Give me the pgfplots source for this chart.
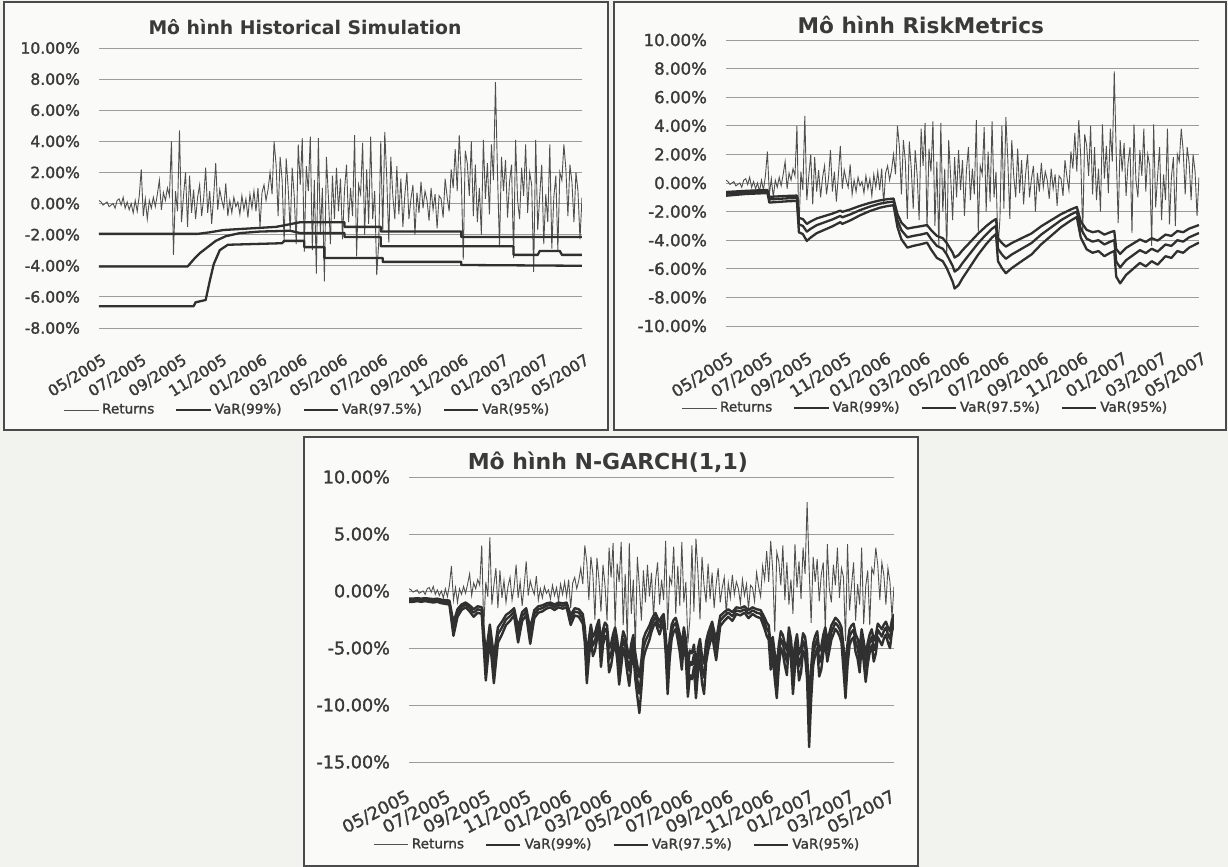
\documentclass[border=0pt]{standalone}
\usepackage{fontspec}
\setmainfont{DejaVu Sans}
\newfontfamily\lblfont{DejaVu Sans}[FakeBold=1.6]
\usepackage{pgfplots}
\usepackage{pgfplotstable}
\pgfplotsset{compat=1.18}
\definecolor{bgc}{HTML}{F2F2EE}
\definecolor{panc}{HTML}{FAFAF8}
\definecolor{framec}{HTML}{4A4A4A}
\definecolor{gridc}{HTML}{9C9C9C}
\definecolor{retc}{HTML}{505050}
\definecolor{varc}{HTML}{303030}
\definecolor{txtc}{HTML}{3A3A3A}

\pgfplotstableread{
x r
0.0 0.2
0.1 0.1
0.2 -0.1
0.3 0.0
0.4 0.1
0.5 -0.2
0.6 -0.1
0.7 0.0
0.8 -0.3
0.9 0.2
1.0 0.3
1.1 -0.1
1.2 0.4
1.3 -0.3
1.4 0.1
1.5 -0.4
1.6 0.0
1.7 -0.6
1.8 0.2
1.9 -0.5
2.0 0.5
2.1 2.2
2.2 -0.8
2.3 0.3
2.4 -1.0
2.5 0.2
2.6 -0.3
2.7 0.4
2.8 -0.2
2.9 0.6
3.0 1.5
3.1 -0.4
3.2 0.7
3.3 0.2
3.4 1.0
3.5 0.5
3.6 4.0
3.7 -3.3
3.8 0.8
3.9 -0.5
4.0 4.7
4.1 -1.2
4.2 0.5
4.3 2.0
4.4 -1.5
4.5 1.8
4.6 -0.6
4.7 0.9
4.8 -1.0
4.9 0.4
5.0 1.2
5.1 -0.8
5.2 0.3
5.3 2.3
5.4 -0.6
5.5 0.8
5.6 -1.3
5.7 0.5
5.8 2.6
5.9 -0.4
6.0 0.9
6.1 0.2
6.2 -0.3
6.3 1.3
6.4 -0.8
6.5 0.2
6.6 -0.6
6.7 0.4
6.8 -0.2
6.9 0.1
7.0 -0.7
7.1 0.5
7.2 -0.4
7.3 0.3
7.4 -0.9
7.5 0.6
7.6 -0.3
7.7 0.8
7.8 -0.5
7.9 1.0
8.0 -1.5
8.1 0.7
8.2 1.2
8.3 0.2
8.4 0.9
8.5 2.0
8.6 0.6
8.7 4.0
8.8 2.5
8.9 -0.8
9.0 3.0
9.1 1.5
9.2 -2.5
9.3 2.9
9.4 1.0
9.5 -1.8
9.6 2.3
9.7 0.5
9.8 -2.6
9.9 3.8
10.0 1.2
10.1 4.2
10.2 -3.1
10.3 2.4
10.4 0.8
10.5 4.3
10.6 -3.0
10.7 1.5
10.8 -4.5
10.9 4.2
11.0 -2.0
11.1 1.0
11.2 -5.0
11.3 3.0
11.4 0.4
11.5 -2.6
11.6 1.8
11.7 -1.0
11.8 2.3
11.9 -0.5
12.0 1.6
12.1 -2.3
12.2 0.9
12.3 2.5
12.4 -1.2
12.5 1.0
12.6 -0.8
12.7 4.4
12.8 -3.4
12.9 1.2
13.0 0.6
13.1 3.9
13.2 -2.0
13.3 2.2
13.4 -1.3
13.5 4.3
13.6 -1.0
13.7 0.8
13.8 -4.6
13.9 -2.5
14.0 4.0
14.1 -1.8
14.2 4.6
14.3 1.6
14.4 -2.5
14.5 3.0
14.6 0.5
14.7 -1.0
14.8 2.4
14.9 -0.7
15.0 1.6
15.1 -1.5
15.2 0.6
15.3 2.0
15.4 -1.0
15.5 0.3
15.6 1.2
15.7 -2.0
15.8 0.7
15.9 -0.6
16.0 1.4
16.1 -0.3
16.2 0.8
16.3 0.2
16.4 -1.1
16.5 1.0
16.6 -0.4
16.7 0.6
16.8 -1.6
16.9 0.5
17.0 0.3
17.1 -0.9
17.2 1.6
17.3 0.4
17.4 -0.5
17.5 2.2
17.6 1.0
17.7 3.5
17.8 0.8
17.9 4.4
18.0 1.8
18.1 -3.6
18.2 3.4
18.3 2.6
18.4 0.5
18.5 4.0
18.6 -0.8
18.7 2.5
18.8 -1.2
18.9 1.0
19.0 -2.0
19.1 4.1
19.2 0.3
19.3 2.6
19.4 -0.7
19.5 3.8
19.6 1.5
19.7 7.8
19.8 2.0
19.9 -2.8
20.0 3.0
20.1 0.8
20.2 2.8
20.3 -0.9
20.4 1.4
20.5 2.5
20.6 -3.5
20.7 4.1
20.8 0.2
20.9 -1.0
21.0 2.3
21.1 0.5
21.2 3.8
21.3 -0.6
21.4 2.0
21.5 1.2
21.6 -4.4
21.7 4.1
21.8 -1.7
21.9 0.5
22.0 2.5
22.1 -2.6
22.2 0.6
22.3 -1.2
22.4 3.8
22.5 -2.9
22.6 0.4
22.7 1.8
22.8 -3.0
22.9 2.0
23.0 1.5
23.1 3.8
23.2 2.2
23.3 -0.8
23.4 2.5
23.5 1.4
23.6 -1.2
23.7 2.0
23.8 0.8
23.9 -2.3
24.0 0.4
}\rettab

\pgfplotstableread{
x v99 v975 v95
0.0 -0.89 -0.75 -0.63
0.5 -0.83 -0.70 -0.59
1.0 -0.77 -0.65 -0.55
1.5 -0.74 -0.62 -0.52
2.0 -0.71 -0.60 -0.50
2.1 -0.69 -0.58 -0.49
2.2 -1.37 -1.15 -0.97
2.6 -1.33 -1.12 -0.94
3.0 -1.29 -1.08 -0.91
3.6 -1.25 -1.05 -0.88
3.7 -3.45 -2.90 -2.44
3.9 -3.57 -3.00 -2.52
4.1 -4.05 -3.40 -2.86
4.3 -3.81 -3.20 -2.69
4.6 -3.51 -2.95 -2.48
5.0 -3.27 -2.75 -2.31
5.4 -3.03 -2.55 -2.14
5.8 -2.74 -2.30 -1.93
5.9 -2.86 -2.40 -2.02
6.3 -2.62 -2.20 -1.85
6.8 -2.26 -1.90 -1.60
7.3 -1.96 -1.65 -1.39
7.8 -1.73 -1.45 -1.22
8.2 -1.61 -1.35 -1.13
8.5 -1.55 -1.30 -1.09
8.7 -3.09 -2.60 -2.18
8.9 -3.93 -3.30 -2.77
9.2 -4.52 -3.80 -3.19
9.5 -4.40 -3.70 -3.11
9.9 -4.28 -3.60 -3.02
10.2 -4.17 -3.50 -2.94
10.4 -4.64 -3.90 -3.28
10.7 -5.24 -4.40 -3.70
11.0 -5.47 -4.60 -3.86
11.2 -5.95 -5.00 -4.20
11.5 -6.90 -5.80 -4.87
11.6 -7.38 -6.20 -5.21
11.8 -7.14 -6.00 -5.04
12.0 -6.66 -5.60 -4.70
12.4 -5.83 -4.90 -4.12
12.8 -5.00 -4.20 -3.53
13.2 -4.28 -3.60 -3.02
13.5 -3.81 -3.20 -2.69
13.7 -3.57 -3.00 -2.52
13.8 -5.47 -4.60 -3.86
14.0 -5.95 -5.00 -4.20
14.2 -6.31 -5.30 -4.45
14.5 -5.95 -5.00 -4.20
15.0 -5.47 -4.60 -3.86
15.5 -5.00 -4.20 -3.53
16.0 -4.28 -3.60 -3.02
16.5 -3.69 -3.10 -2.60
17.0 -3.09 -2.60 -2.18
17.5 -2.62 -2.20 -1.85
17.8 -2.38 -2.00 -1.68
18.0 -3.81 -3.20 -2.69
18.3 -4.64 -3.90 -3.28
18.6 -4.88 -4.10 -3.44
18.9 -4.76 -4.00 -3.36
19.2 -5.12 -4.30 -3.61
19.5 -4.88 -4.10 -3.44
19.7 -4.76 -4.00 -3.36
19.8 -6.55 -5.50 -4.62
20.0 -7.02 -5.90 -4.96
20.3 -6.43 -5.40 -4.54
20.7 -5.95 -5.00 -4.20
21.0 -5.59 -4.70 -3.95
21.3 -5.83 -4.90 -4.12
21.6 -5.47 -4.60 -3.86
21.9 -5.71 -4.80 -4.03
22.3 -5.12 -4.30 -3.61
22.6 -5.24 -4.40 -3.70
22.9 -4.76 -4.00 -3.36
23.2 -4.88 -4.10 -3.44
23.5 -4.52 -3.80 -3.19
24.0 -4.17 -3.50 -2.94
}\rmtab

\pgfplotstableread{
x v99 v975 v95
0.0 -0.95 -0.80 -0.67
0.2 -0.95 -0.80 -0.67
0.4 -0.89 -0.75 -0.63
0.6 -0.95 -0.80 -0.67
0.8 -0.89 -0.75 -0.63
1.0 -0.95 -0.80 -0.67
1.2 -1.01 -0.85 -0.71
1.4 -0.95 -0.80 -0.67
1.6 -1.07 -0.90 -0.76
1.8 -1.13 -0.95 -0.80
2.0 -1.19 -1.00 -0.84
2.2 -3.93 -3.30 -2.77
2.4 -2.26 -1.90 -1.60
2.6 -1.67 -1.40 -1.18
2.8 -1.43 -1.20 -1.01
3.0 -1.79 -1.50 -1.26
3.2 -2.26 -1.90 -1.60
3.4 -1.90 -1.60 -1.34
3.6 -2.02 -1.70 -1.43
3.8 -7.85 -6.60 -5.54
4.0 -4.17 -3.50 -2.94
4.2 -8.09 -6.80 -5.71
4.4 -4.52 -3.80 -3.19
4.6 -3.81 -3.20 -2.69
4.8 -2.98 -2.50 -2.10
5.0 -2.62 -2.20 -1.85
5.2 -2.14 -1.80 -1.51
5.4 -4.52 -3.80 -3.19
5.6 -2.62 -2.20 -1.85
5.8 -2.14 -1.80 -1.51
6.0 -4.64 -3.90 -3.28
6.2 -2.38 -2.00 -1.68
6.4 -1.90 -1.60 -1.34
6.6 -1.79 -1.50 -1.26
6.8 -1.55 -1.30 -1.09
7.0 -1.43 -1.20 -1.01
7.2 -1.67 -1.40 -1.18
7.4 -1.43 -1.20 -1.01
7.6 -1.55 -1.30 -1.09
7.8 -1.43 -1.20 -1.01
8.0 -2.98 -2.50 -2.10
8.2 -2.14 -1.80 -1.51
8.4 -2.26 -1.90 -1.60
8.6 -2.86 -2.40 -2.02
8.7 -4.52 -3.80 -3.19
8.8 -8.09 -6.80 -5.71
8.9 -5.95 -5.00 -4.20
9.0 -4.17 -3.50 -2.94
9.1 -5.71 -4.80 -4.03
9.2 -5.24 -4.40 -3.70
9.3 -4.28 -3.60 -3.02
9.4 -3.57 -3.00 -2.52
9.5 -6.66 -5.60 -4.70
9.6 -4.76 -4.00 -3.36
9.7 -3.93 -3.30 -2.77
9.8 -4.28 -3.60 -3.02
9.9 -7.14 -6.00 -5.04
10.0 -6.55 -5.50 -4.62
10.1 -5.36 -4.50 -3.78
10.2 -4.52 -3.80 -3.19
10.3 -5.95 -5.00 -4.20
10.4 -8.21 -6.90 -5.80
10.5 -6.66 -5.60 -4.70
10.6 -5.00 -4.20 -3.53
10.7 -5.71 -4.80 -4.03
10.8 -7.14 -6.00 -5.04
10.9 -8.33 -7.00 -5.88
11.0 -6.55 -5.50 -4.62
11.1 -5.47 -4.60 -3.86
11.2 -7.74 -6.50 -5.46
11.3 -9.28 -7.80 -6.55
11.4 -10.71 -9.00 -7.56
11.5 -8.57 -7.20 -6.05
11.6 -5.95 -5.00 -4.20
11.7 -5.24 -4.40 -3.70
11.8 -4.76 -4.00 -3.36
11.9 -4.28 -3.60 -3.02
12.0 -3.57 -3.00 -2.52
12.1 -3.09 -2.60 -2.18
12.2 -2.74 -2.30 -1.93
12.3 -3.33 -2.80 -2.35
12.4 -3.81 -3.20 -2.69
12.5 -3.21 -2.70 -2.27
12.6 -2.86 -2.40 -2.02
12.7 -5.36 -4.50 -3.78
12.8 -9.04 -7.60 -6.38
12.9 -5.95 -5.00 -4.20
13.0 -4.17 -3.50 -2.94
13.1 -3.57 -3.00 -2.52
13.2 -3.33 -2.80 -2.35
13.3 -4.28 -3.60 -3.02
13.4 -5.36 -4.50 -3.78
13.5 -6.90 -5.80 -4.87
13.6 -4.52 -3.80 -3.19
13.7 -5.95 -5.00 -4.20
13.8 -9.28 -7.80 -6.55
13.9 -7.38 -6.20 -5.21
14.0 -7.74 -6.50 -5.46
14.1 -6.66 -5.60 -4.70
14.2 -9.40 -7.90 -6.64
14.3 -7.14 -6.00 -5.04
14.4 -5.95 -5.00 -4.20
14.5 -8.09 -6.80 -5.71
14.6 -9.04 -7.60 -6.38
14.7 -6.31 -5.30 -4.45
14.8 -5.24 -4.40 -3.70
14.9 -4.52 -3.80 -3.19
15.0 -3.81 -3.20 -2.69
15.1 -5.00 -4.20 -3.53
15.2 -6.07 -5.10 -4.28
15.4 -3.09 -2.60 -2.18
15.6 -2.62 -2.20 -1.85
15.8 -2.26 -1.90 -1.60
16.0 -2.62 -2.20 -1.85
16.2 -2.02 -1.70 -1.43
16.4 -2.14 -1.80 -1.51
16.6 -1.90 -1.60 -1.34
16.8 -2.38 -2.00 -1.68
17.0 -2.02 -1.70 -1.43
17.2 -2.26 -1.90 -1.60
17.4 -2.38 -2.00 -1.68
17.6 -3.33 -2.80 -2.35
17.7 -3.93 -3.30 -2.77
17.8 -4.28 -3.60 -3.02
17.9 -6.90 -5.80 -4.87
18.0 -5.71 -4.80 -4.03
18.1 -7.74 -6.50 -5.46
18.2 -9.40 -7.90 -6.64
18.3 -6.66 -5.60 -4.70
18.4 -5.00 -4.20 -3.53
18.5 -5.47 -4.60 -3.86
18.6 -6.55 -5.50 -4.62
18.7 -7.38 -6.20 -5.21
18.8 -4.52 -3.80 -3.19
18.9 -5.95 -5.00 -4.20
19.0 -9.04 -7.60 -6.38
19.1 -6.66 -5.60 -4.70
19.2 -5.36 -4.50 -3.78
19.3 -7.85 -6.60 -5.54
19.4 -7.14 -6.00 -5.04
19.5 -5.24 -4.40 -3.70
19.6 -5.71 -4.80 -4.03
19.7 -7.74 -6.50 -5.46
19.8 -13.69 -11.50 -9.66
19.9 -9.52 -8.00 -6.72
20.0 -6.55 -5.50 -4.62
20.1 -5.59 -4.70 -3.95
20.2 -5.00 -4.20 -3.53
20.3 -7.50 -6.30 -5.29
20.4 -6.90 -5.80 -4.87
20.5 -5.47 -4.60 -3.86
20.6 -4.52 -3.80 -3.19
20.7 -6.19 -5.20 -4.37
20.8 -5.24 -4.40 -3.70
20.9 -4.28 -3.60 -3.02
21.0 -3.81 -3.20 -2.69
21.1 -3.33 -2.80 -2.35
21.2 -3.57 -3.00 -2.52
21.3 -3.93 -3.30 -2.77
21.4 -4.52 -3.80 -3.19
21.5 -6.90 -5.80 -4.87
21.6 -9.40 -7.90 -6.64
21.7 -6.55 -5.50 -4.62
21.8 -4.76 -4.00 -3.36
21.9 -4.28 -3.60 -3.02
22.0 -4.05 -3.40 -2.86
22.1 -5.36 -4.50 -3.78
22.2 -5.95 -5.00 -4.20
22.3 -7.14 -6.00 -5.04
22.4 -4.76 -4.00 -3.36
22.5 -6.19 -5.20 -4.37
22.6 -7.97 -6.70 -5.63
22.7 -6.43 -5.40 -4.54
22.8 -5.36 -4.50 -3.78
22.9 -4.76 -4.00 -3.36
23.0 -6.19 -5.20 -4.37
23.1 -5.47 -4.60 -3.86
23.2 -4.05 -3.40 -2.86
23.3 -4.40 -3.70 -3.11
23.4 -4.76 -4.00 -3.36
23.5 -4.17 -3.50 -2.94
23.6 -3.81 -3.20 -2.69
23.7 -4.52 -3.80 -3.19
23.8 -5.00 -4.20 -3.53
23.9 -3.57 -3.00 -2.52
24.0 -2.86 -2.40 -2.02
}\gatab

\pgfplotsset{
  panel/.style={
    scale only axis,
    anchor=south west,
    xmin=0, xmax=24,
    xtick={0,2,...,24},
    xticklabels={05/2005,07/2005,09/2005,11/2005,01/2006,03/2006,05/2006,07/2006,09/2006,11/2006,01/2007,03/2007,05/2007},
    xticklabel style={anchor=north east, inner sep=1pt},
    yticklabel style={anchor=east, xshift=-6pt},
    ymajorgrids,
    grid style={gridc, line width=0.45pt},
    axis line style={draw=none},
    major tick length=0pt,
    tick label style={text=txtc},
    legend columns=4,
    legend cell align=left,
    legend style={draw=none, fill=none, inner sep=0pt, text=txtc,
      font=\lblfont\fontsize{6.8}{8}\selectfont,
      /tikz/every even column/.append style={column sep=9pt},
      nodes={inner sep=1.5pt}},
    title style={anchor=center, text=txtc},
  },
  retp/.style={color=retc, line width=0.45pt, no marks},
  varp/.style={color=varc, line width=1.15pt, no marks, line join=round},
}

\begin{document}
\begin{tikzpicture}
\path[use as bounding box, fill=bgc] (0pt,0pt) rectangle (614pt,433.5pt);
\draw[framec, fill=panc, line width=0.6pt] (2pt,218.5pt) rectangle (304pt,432.5pt);
\draw[framec, fill=panc, line width=0.6pt] (307pt,218.5pt) rectangle (613pt,432.5pt);
\draw[framec, fill=panc, line width=0.7pt] (152pt,0.5pt) rectangle (459pt,215pt);

% Panel 1: Historical Simulation
\begin{axis}[panel, at={(49.5pt,269.5pt)}, width=241.5pt, height=140pt,
  ymin=-8, ymax=10, ytick={-8,-6,...,10},
  yticklabels={-8.00\%,-6.00\%,-4.00\%,-2.00\%,0.00\%,2.00\%,4.00\%,6.00\%,8.00\%,10.00\%},
  tick label style={font=\lblfont\fontsize{7.8}{9}\selectfont},
  xticklabel style={rotate=32, xshift=-4.5pt, yshift=-10pt},
  title={Mô hình Historical Simulation},
  title style={at={(0.4265,1.032)}, font=\bfseries\fontsize{9.4}{11}\selectfont},
  legend style={at={(0.433,-0.293)}, anchor=center}]
\addplot[retp] table[x=x, y=r] {\rettab};
\addplot[varp] coordinates {(0,-6.6) (4.7,-6.6) (4.8,-6.35) (5.3,-6.2) (5.5,-5.0) (5.7,-3.9) (6.0,-3.0) (6.4,-2.65) (9.1,-2.55) (9.2,-2.4) (10.2,-2.4) (10.2,-2.8) (11.2,-2.8) (11.2,-3.5) (14.1,-3.5) (14.1,-3.75) (18.0,-3.75) (18.0,-3.95) (24,-4.0)};
\addplot[varp] coordinates {(0,-4.05) (4.4,-4.05) (4.7,-3.6) (5.0,-3.2) (5.4,-2.8) (5.8,-2.4) (6.3,-2.1) (7.0,-1.9) (8.0,-1.8) (9.5,-1.75) (10.0,-1.9) (12.2,-1.9) (12.2,-2.15) (14.0,-2.15) (14.0,-2.75) (20.6,-2.75) (20.6,-3.3) (21.8,-3.3) (21.9,-3.05) (22.9,-3.05) (23.0,-3.3) (24,-3.3)};
\addplot[varp] coordinates {(0,-1.95) (4.9,-1.95) (5.5,-1.85) (6.2,-1.7) (8.8,-1.5) (9.6,-1.3) (10.0,-1.2) (12.2,-1.2) (12.2,-1.5) (14.0,-1.5) (14.0,-1.8) (18.0,-1.8) (18.0,-2.15) (24,-2.15)};
\legend{Returns,VaR(99\%),VaR(97.5\%),VaR(95\%)}
\end{axis}

% Panel 2: RiskMetrics
\begin{axis}[panel, at={(363pt,270.5pt)}, width=236.5pt, height=143pt,
  ymin=-10, ymax=10, ytick={-10,-8,...,10},
  yticklabels={-10.00\%,-8.00\%,-6.00\%,-4.00\%,-2.00\%,0.00\%,2.00\%,4.00\%,6.00\%,8.00\%,10.00\%},
  tick label style={font=\lblfont\fontsize{8.3}{10}\selectfont},
  xticklabel style={rotate=32, xshift=-4.5pt, yshift=-10pt},
  title={Mô hình RiskMetrics},
  title style={at={(0.412,1.010)}, font=\bfseries\fontsize{10.8}{12}\selectfont},
  legend style={at={(0.423,-0.287)}, anchor=center}]
\addplot[retp] table[x=x, y=r] {\rettab};
\addplot[varp] table[x=x, y=v99] {\rmtab};
\addplot[varp] table[x=x, y=v975] {\rmtab};
\addplot[varp] table[x=x, y=v95] {\rmtab};
\legend{Returns,VaR(99\%),VaR(97.5\%),VaR(95\%)}
\end{axis}

% Panel 3: N-GARCH(1,1)
\begin{axis}[panel, at={(204.5pt,52.5pt)}, width=242.5pt, height=142.5pt,
  ymin=-15, ymax=10, ytick={-15,-10,...,10},
  yticklabels={-15.00\%,-10.00\%,-5.00\%,0.00\%,5.00\%,10.00\%},
  tick label style={font=\lblfont\fontsize{8.8}{10}\selectfont},
  xticklabel style={rotate=27, xshift=-6.5pt, yshift=-10pt},
  title={Mô hình N-GARCH(1,1)},
  title style={at={(0.41,1.011)}, font=\bfseries\fontsize{11}{12}\selectfont},
  legend style={at={(0.431,-0.291)}, anchor=center}]
\addplot[retp] table[x=x, y=r] {\rettab};
\addplot[varp, line width=1.2pt] table[x=x, y=v99] {\gatab};
\addplot[varp, line width=1.2pt] table[x=x, y=v975] {\gatab};
\addplot[varp, line width=1.2pt] table[x=x, y=v95] {\gatab};
\legend{Returns,VaR(99\%),VaR(97.5\%),VaR(95\%)}
\end{axis}
\end{tikzpicture}
\end{document}
